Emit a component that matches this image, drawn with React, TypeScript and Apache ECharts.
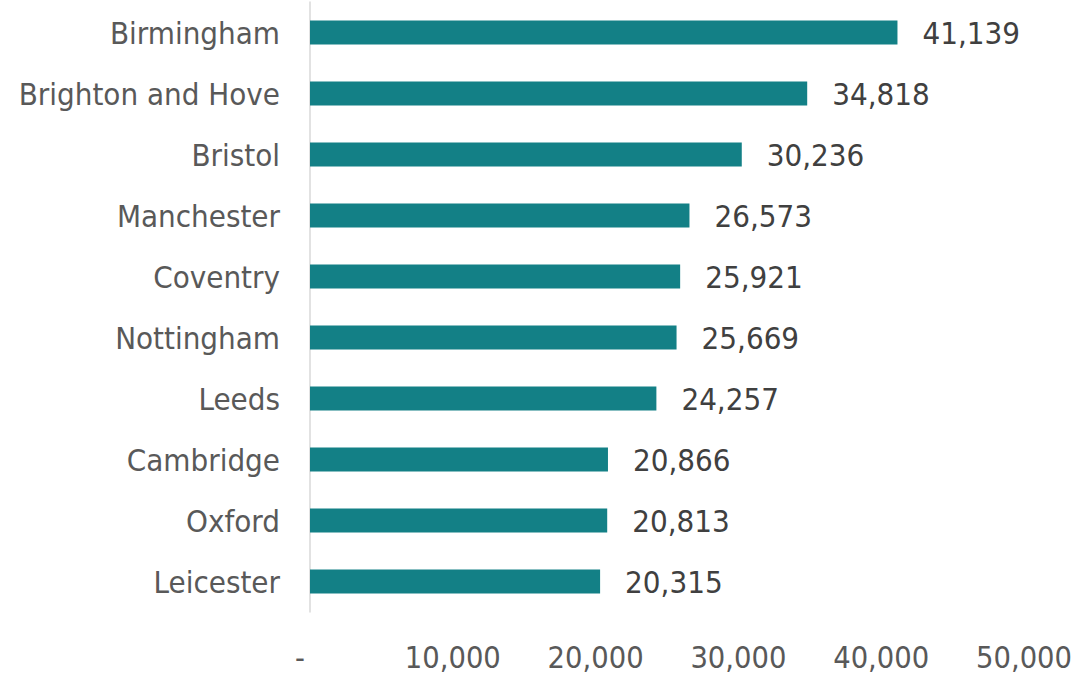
import React, { useEffect, useRef } from "react";
import * as echarts from "echarts";

const categories = [
  "Birmingham",
  "Brighton and Hove",
  "Bristol",
  "Manchester",
  "Coventry",
  "Nottingham",
  "Leeds",
  "Cambridge",
  "Oxford",
  "Leicester",
];
const values = [41139, 34818, 30236, 26573, 25921, 25669, 24257, 20866, 20813, 20315];
const xTicks = [0, 10000, 20000, 30000, 40000, 50000];

const FONT = "'DejaVu Sans Condensed', 'DejaVu Sans', sans-serif";
const fmt = (v: number) => (v === 0 ? "-" : v.toLocaleString("en-US"));

export default function App() {
  const ref = useRef<HTMLDivElement>(null);
  useEffect(() => {
    if (!ref.current) return;
    const chart = echarts.init(ref.current, undefined, { renderer: "svg" });
    chart.setOption({
      animation: false,
      backgroundColor: "#ffffff",
      grid: { left: 310, top: 2, width: 714, height: 610, containLabel: false },
      xAxis: {
        type: "value",
        min: xTicks[0],
        max: xTicks[xTicks.length - 1],
        interval: 10000,
        axisLine: { show: false },
        axisTick: { show: false },
        splitLine: { show: false },
        axisLabel: {
          margin: 30,
          fontFamily: FONT,
          fontSize: 30.5,
          color: "#595959",
          formatter: (v: number) => (v === 0 ? "{d|-}" : fmt(v)),
          rich: { d: { fontFamily: FONT, fontSize: 30.5, color: "#595959", padding: [0, 20, 0, 0] } },
        },
      },
      yAxis: {
        type: "category",
        data: categories,
        inverse: true,
        axisLine: { show: true, lineStyle: { color: "#d9d9d9", width: 1.5 } },
        axisTick: { show: false },
        axisLabel: { margin: 30, fontFamily: FONT, fontSize: 31, color: "#595959" },
      },
      series: [
        {
          type: "bar",
          data: values,
          barWidth: 24,
          itemStyle: { color: "#138086" },
          label: {
            show: true,
            position: "right",
            distance: 25,
            fontFamily: FONT,
            fontSize: 31,
            color: "#404040",
            formatter: (p: any) => fmt(p.value),
          },
        },
      ],
    });
    return () => chart.dispose();
  }, []);
  return (
    <div
      ref={ref}
      style={{ position: "fixed", left: 0, top: 0, width: 1089, height: 678 }}
    />
  );
}
